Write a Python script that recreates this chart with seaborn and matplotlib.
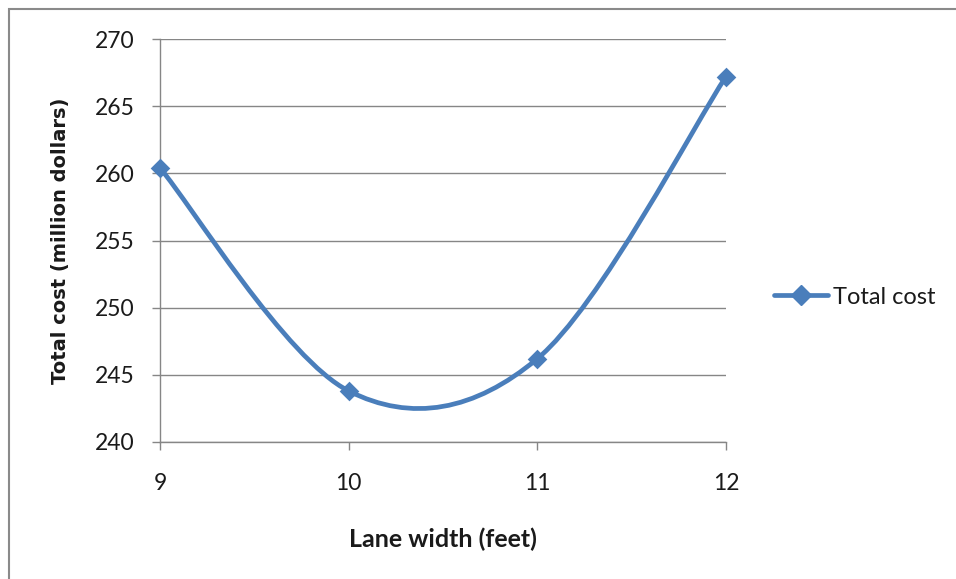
import numpy as np
import pandas as pd
import seaborn as sns
import matplotlib
matplotlib.use("Agg")
import matplotlib.pyplot as plt
from matplotlib.path import Path
from matplotlib.patches import PathPatch, Rectangle
from matplotlib.lines import Line2D

# ---- data ----
lane_width = [9, 10, 11, 12]
total_cost = [260.4, 243.8, 246.2, 267.2]
x_ticks = [9, 10, 11, 12]
y_ticks = [240, 245, 250, 255, 260, 265, 270]
series_name = "Total cost"
x_label = "Lane width (feet)"
y_label = "Total cost (million dollars)"

BLUE = "#4A7EBB"
GRID = "#868686"
TEXT = "#1a1a1a"

sns.set_theme(style="white")
plt.rcParams['font.family'] = ['Lato', 'DejaVu Sans']

df = pd.DataFrame({"x": lane_width, "y": total_cost})

fig = plt.figure(figsize=(9.56, 5.79), dpi=100)
ax = fig.add_axes([160/956, 137/579, 566/956, 403/579])


def smooth_path(xs, ys):
    """Excel-style smoothed line: cubic Bezier through the data points."""
    pts = np.column_stack([xs, ys]).astype(float)
    n = len(pts)
    verts = [pts[0]]
    codes = [Path.MOVETO]
    for i in range(n - 1):
        p0 = pts[i - 1] if i > 0 else pts[i]
        p1 = pts[i]
        p2 = pts[i + 1]
        p3 = pts[i + 2] if i + 2 < n else pts[i + 1]
        c1 = p1 + (p2 - p0) / 6.0
        c2 = p2 - (p3 - p1) / 6.0
        verts += [c1, c2, p2]
        codes += [Path.CURVE4] * 3
    return Path(verts, codes)


patch = PathPatch(smooth_path(df["x"], df["y"]), facecolor="none",
                  edgecolor=BLUE, lw=3.4, capstyle="round", joinstyle="round",
                  zorder=3, clip_on=False)
ax.add_patch(patch)

sns.scatterplot(data=df, x="x", y="y", marker="D", s=100, color=BLUE,
                edgecolor=BLUE, linewidth=0, ax=ax, zorder=4, clip_on=False,
                legend=False)

ax.set_xlim(9, 12)
ax.set_ylim(240, 270)
ax.set_xticks(x_ticks)
ax.set_yticks(y_ticks)
ax.set_xticklabels([str(v) for v in x_ticks])
ax.set_yticklabels([str(v) for v in y_ticks])

ax.grid(axis="y", color=GRID, lw=1.0)
ax.grid(axis="x", visible=False)
ax.set_axisbelow(True)
for s in ["top", "right"]:
    ax.spines[s].set_visible(False)
for s in ["left", "bottom"]:
    ax.spines[s].set_color(GRID)
    ax.spines[s].set_linewidth(1.0)

ax.tick_params(axis="y", which="major", direction="out", length=6, width=1,
               color=GRID, pad=12, labelsize=16.5, labelcolor=TEXT, left=True)
ax.tick_params(axis="x", which="major", direction="out", length=6, width=1,
               color=GRID, pad=16, labelsize=16.5, labelcolor=TEXT, bottom=True)

ax.set_xlabel(x_label, fontsize=18, fontweight="bold", color=TEXT)
ax.set_ylabel(y_label, fontsize=14, fontweight="bold", color=TEXT,
              family=["DejaVu Sans"])
ax.xaxis.label.set_va("center")
ax.yaxis.label.set_va("center")
ax.xaxis.set_label_coords(0.5, -0.241)
ax.yaxis.set_label_coords(-0.175, 0.5)

handle = Line2D([], [], color=BLUE, lw=3.4, marker="D", markersize=10,
                markeredgecolor=BLUE)
fig.legend([handle], [series_name], loc="center left",
           bbox_to_anchor=(774/956, 1 - 297/579), frameon=False,
           fontsize=17, handlelength=2.3, handletextpad=0.2, borderpad=0,
           borderaxespad=0, labelcolor=TEXT)

fig.add_artist(Rectangle((9/956, -0.5), 2.0, 1 - 9/579 + 0.5,
                         transform=fig.transFigure, fill=False,
                         edgecolor="#8a8a8a", lw=1.5))

fig.savefig("out.png", dpi=100)
